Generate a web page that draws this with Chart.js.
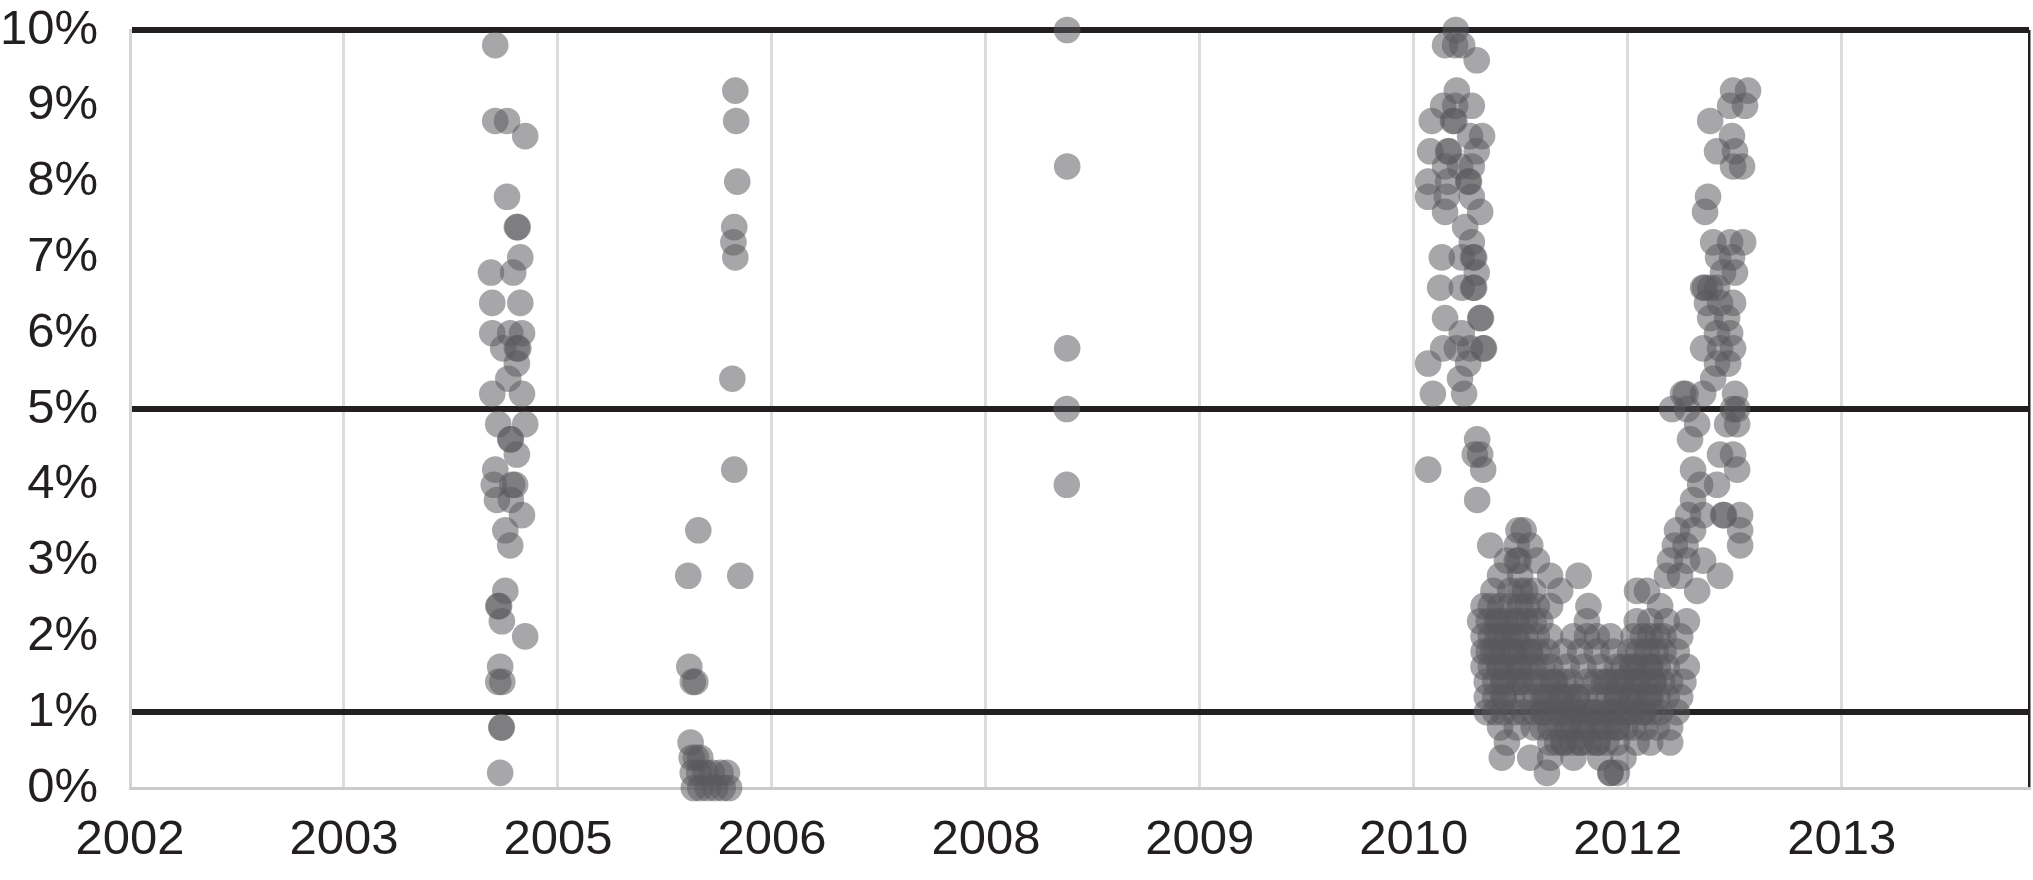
<!DOCTYPE html>
<html><head><meta charset="utf-8">
<script src="https://cdn.jsdelivr.net/npm/chart.js@4.4.1/dist/chart.umd.min.js"></script>
<style>html,body{margin:0;padding:0;background:#fff;}canvas{display:block;}</style>
</head><body>
<canvas id="c" width="2033" height="880"></canvas>
<script>
// Tick labels (x axis positions 0..8 are equally spaced label slots)
const xTickLabels = ['2002','2003','2005','2006','2008','2009','2010','2012','2013'];
const xTickValues = [0,1,2,3,4,5,6,7,8];
const xMax = 8.875;
const yTickValues = [0,1,2,3,4,5,6,7,8,9,10];
const thresholdLines = [1,5,10];

// Rows: [value %, [x positions]]
const cluster2004 = [
 [9.8,[1.707]],[8.8,[1.707,1.762]],[8.6,[1.847]],[7.8,[1.762]],[7.4,[1.808,1.812]],
 [7.0,[1.824]],[6.8,[1.687,1.791]],[6.4,[1.693,1.824]],[6.0,[1.693,1.777,1.832]],
 [5.8,[1.744,1.808,1.815]],[5.6,[1.808]],[5.4,[1.768]],[5.2,[1.693,1.832]],
 [4.8,[1.721,1.847]],[4.6,[1.777,1.780]],[4.4,[1.808]],[4.2,[1.707]],
 [4.0,[1.700,1.786,1.800]],[3.8,[1.715,1.780]],[3.6,[1.832]],[3.4,[1.754]],
 [3.2,[1.777]],[2.6,[1.754]],[2.4,[1.721,1.725]],[2.2,[1.738]],[2.0,[1.847]],
 [1.6,[1.730]],[1.4,[1.721,1.740]],[0.8,[1.735,1.738]],[0.2,[1.730]]
];
const cluster2005 = [
 [9.2,[2.829]],[8.8,[2.833]],[8.0,[2.838]],[7.4,[2.824]],[7.2,[2.820]],[7.0,[2.829]],
 [5.4,[2.815]],[4.2,[2.824]],[3.4,[2.656]],[2.8,[2.609,2.852]],[1.6,[2.614]],
 [1.4,[2.630,2.642]],[0.6,[2.620]],[0.4,[2.625,2.645,2.665]],
 [0.2,[2.630,2.660,2.690,2.720,2.760,2.790]],[0.0,[2.635,2.665,2.700,2.735,2.770,2.800]]
];
const cluster2008 = [
 [10.0,[4.380]],[8.2,[4.380]],[5.8,[4.380]],[5.0,[4.378]],[4.0,[4.378]]
];
const cluster2010 = [
 [10.0,[6.196]],[9.8,[6.146,6.193,6.226]],[9.6,[6.294]],[9.2,[6.201]],
 [9.0,[6.137,6.193,6.271]],[8.8,[6.084,6.183,6.190]],[8.6,[6.263,6.319]],
 [8.4,[6.076,6.160,6.165,6.294]],[8.2,[6.146,6.216,6.271]],[8.0,[6.067,6.160,6.254,6.258]],
 [7.8,[6.067,6.154,6.271]],[7.6,[6.146,6.310]],[7.4,[6.240]],[7.2,[6.271]],
 [7.0,[6.131,6.224,6.277,6.282]],[6.8,[6.294]],[6.6,[6.123,6.224,6.277,6.282]],
 [6.2,[6.146,6.310,6.314]],[6.0,[6.224]],[5.8,[6.137,6.201,6.263,6.324,6.328]],
 [5.6,[6.067,6.254]],[5.4,[6.216]],[5.2,[6.089,6.235]],[4.6,[6.296]],
 [4.4,[6.285,6.310]],[4.2,[6.067,6.324]],[3.8,[6.296]]
];
const troughRows = [
 [3.4,[6.489,6.513]],[3.2,[6.357,6.481,6.544]],[3.0,[6.435,6.481,6.490,6.575]],
 [2.8,[6.403,6.497,6.637,6.770]],[2.6,[6.372,6.497,6.559,6.684]],
 [2.4,[6.326,6.403,6.497,6.575,6.637,6.816,7.151]],
 [2.2,[6.310,6.388,6.481,6.591,6.809,7.042,7.105,7.182,7.276]],
 [2.0,[6.326,6.403,6.481,6.575,6.637,6.746,6.809,6.855,6.918,7.027,7.105,7.167,7.245]],
 [1.8,[6.326,6.388,6.466,6.544,6.622,6.700,6.777,6.855,6.933,7.011,7.089,7.167,7.229]],
 [1.6,[6.326,6.403,6.481,6.559,6.637,6.715,6.793,6.871,6.949,7.027,7.105,7.182,7.276]],
 [1.4,[6.341,6.419,6.497,6.575,6.653,6.731,6.809,6.887,6.964,7.042,7.120,7.198,7.260]],
 [1.2,[6.341,6.419,6.528,6.606,6.684,6.762,6.871,6.949,7.027,7.105,7.182,7.245]],
 [1.0,[6.341,6.419,6.513,6.606,6.684,6.762,6.840,6.918,6.996,7.073,7.151,7.229]],
 [0.8,[6.403,6.481,6.637,6.715,6.793,6.871,6.949,7.027,7.136,7.198]],
 [0.6,[6.435,6.637,6.700,6.777,6.855,6.949,7.042,7.105,7.198]],
 [0.4,[6.411,6.544,6.637,6.746,6.871,6.980]],
 [0.2,[6.622,6.918,6.949]]
];
const troughDenseRows = [
 [2.6,[6.45,6.52]],[2.4,[6.36,6.45,6.53]],[2.2,[6.35,6.43,6.52,6.56]],
 [2.0,[6.36,6.44,6.52,7.07,7.14]],[1.8,[6.35,6.42,6.50,6.58,7.05,7.13]],
 [1.6,[6.36,6.44,6.52,6.60,6.98,7.06,7.14]],
 [1.4,[6.38,6.46,6.54,6.62,6.70,6.85,6.93,7.00,7.08,7.16]],
 [1.2,[6.38,6.46,6.57,6.65,6.72,6.80,6.91,6.99,7.06,7.14]],
 [1.0,[6.38,6.47,6.56,6.65,6.72,6.80,6.88,6.96,7.03,7.11]],
 [0.8,[6.56,6.68,6.75,6.83,6.91,6.99,7.08]],[0.6,[6.67,6.74,6.82,6.90]],[0.2,[6.92]]
];
const troughCoreRows = [
 [2.2,[6.40,6.47]],[2.0,[6.39,6.47]],[1.8,[6.37,6.46,6.54]],
 [1.6,[6.40,6.49,7.02,7.10]],[1.4,[6.42,6.50,6.66,6.90,6.97,7.04,7.12]],
 [1.2,[6.42,6.62,6.69,6.76,6.95,7.02,7.10]],
 [1.0,[6.60,6.69,6.76,6.84,6.92,7.00,7.07]],
 [0.8,[6.60,6.72,6.79,6.87,6.95]],[0.6,[6.70,6.78,6.86]]
];
const cluster2012 = [
 [9.2,[7.492,7.562]],[9.0,[7.478,7.548]],[8.8,[7.385]],[8.6,[7.487]],[8.4,[7.417,7.501]],
 [8.2,[7.492,7.534]],[7.8,[7.375]],[7.6,[7.361]],[7.2,[7.399,7.478,7.539]],
 [7.0,[7.422,7.487]],[6.8,[7.445,7.501]],[6.6,[7.352,7.360,7.385,7.417]],
 [6.4,[7.370,7.431,7.492]],[6.2,[7.385,7.464]],[6.0,[7.417,7.478]],
 [5.8,[7.352,7.431,7.492]],[5.6,[7.417,7.469]],[5.4,[7.399]],
 [5.2,[7.258,7.270,7.352,7.501]],[5.0,[7.207,7.277,7.492,7.511]],
 [4.8,[7.324,7.464,7.511]],[4.6,[7.291]],[4.4,[7.431,7.492]],[4.2,[7.305,7.511]],
 [4.0,[7.338,7.417]],[3.8,[7.305]],[3.6,[7.282,7.352,7.445,7.450,7.525]],
 [3.4,[7.230,7.305,7.525]],[3.2,[7.220,7.270,7.525]],[3.0,[7.197,7.277,7.352]],
 [2.8,[7.183,7.244,7.431]],[2.6,[7.043,7.090,7.324]]
];

const points = [];
for (const group of [cluster2004, cluster2005, cluster2008, cluster2010, troughRows, troughDenseRows, troughCoreRows, cluster2012]) {
  for (const [y, xs] of group) for (const x of xs) points.push({x: x, y: y});
}

const FONT = "'Liberation Sans', Arial, Helvetica, sans-serif";
const INK = '#231f20';

new Chart(document.getElementById('c'), {
  type: 'scatter',
  data: { datasets: [{
    data: points,
    backgroundColor: 'rgba(88,89,93,0.53)',
    borderWidth: 0,
    pointRadius: 13.3,
    pointHoverRadius: 13.3,
    clip: false
  }]},
  options: {
    responsive: false,
    animation: false,
    devicePixelRatio: 1,
    layout: { autoPadding: false, padding: { top: 30, right: 4, left: 0, bottom: 0 } },
    plugins: { legend: { display: false }, tooltip: { enabled: false } },
    scales: {
      x: {
        type: 'linear', min: 0, max: xMax,
        afterBuildTicks: s => { s.ticks = xTickValues.map(v => ({value: v})).concat([{value: s.max}]); },
        afterFit: s => { s.height = 92; s.paddingLeft = 0; s.paddingRight = 0; },
        ticks: {
          autoSkip: false, maxRotation: 0, minRotation: 0, padding: 0, color: INK,
          font: { family: FONT, size: 49, lineHeight: 2.15 },
          callback: v => (Number.isInteger(v) && xTickLabels[v] !== undefined) ? xTickLabels[v] : ''
        },
        grid: {
          drawTicks: false,
          color: ctx => ctx.tick && ctx.tick.value === xMax ? INK : (ctx.tick && ctx.tick.value === 0 ? 'rgba(0,0,0,0)' : '#dcdcdc'),
          lineWidth: ctx => ctx.tick && ctx.tick.value === xMax ? 2.5 : 3
        },
        border: { color: '#cbcbcb', width: 3 }
      },
      y: {
        min: 0, max: 10,
        afterBuildTicks: s => { s.ticks = yTickValues.map(v => ({value: v})); },
        afterFit: s => { s.width = 130; s.paddingTop = 0; s.paddingBottom = 0; },
        ticks: {
          padding: 32, color: INK,
          font: { family: FONT, size: 49 },
          callback: v => v + '%'
        },
        grid: {
          drawTicks: false,
          color: ctx => ctx.tick && thresholdLines.includes(ctx.tick.value) ? INK : 'rgba(0,0,0,0)',
          lineWidth: ctx => ctx.tick && thresholdLines.includes(ctx.tick.value) ? 6 : 0
        },
        border: { color: '#d4d4d4', width: 3 }
      }
    }
  }
});
</script>
</body></html>
